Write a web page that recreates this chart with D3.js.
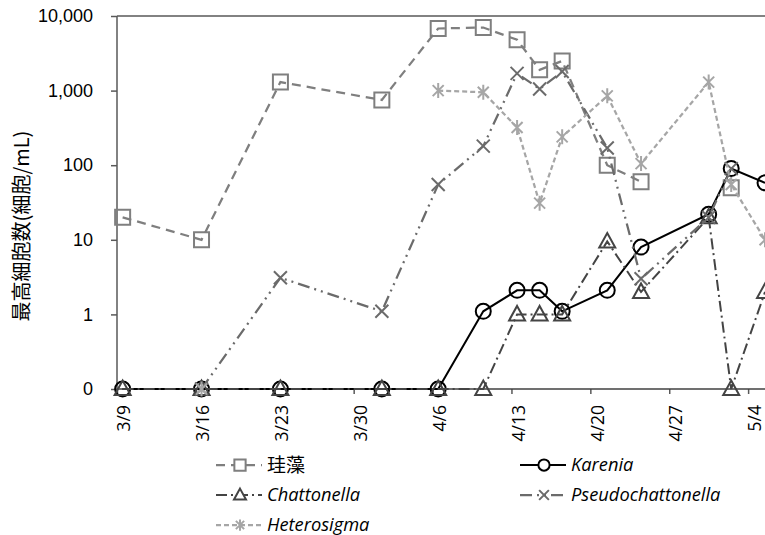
<!DOCTYPE html>
<html>
<head>
<meta charset="utf-8">
<script src="https://cdn.jsdelivr.net/npm/d3@7"></script>
<style>
  body { margin: 0; background: #fff; }
  svg { display: block; }
</style>
</head>
<body>
<div id="chart"></div>
<script>
// sampling dates (month/day) and cell counts per mL; 0 is drawn on the "0" line of the log axis
var dates = ["3/9", "3/16", "3/23", "4/1", "4/6", "4/10", "4/13", "4/15", "4/17", "4/21", "4/24", "4/30", "5/2", "5/5"];
var diatom = [20, 10, 1300, 750, 6800, 7000, 4800, 1900, 2500, 100, 60, null, 50, null];
var karenia = [0, 0, 0, 0, 0, 1.1, 2.1, 2.1, 1.1, 2.1, 8, 22, 90, 58];
var chattonella = [0, 0, 0, 0, 0, 0, 1, 1, 1, 9.5, 2, 20, 0, 2];
var pseudochattonella = [null, 0, 3.1, 1.1, 55, 180, 1700, 1050, 1800, 170, 3, 20, 90, null];
var heterosigma = [null, 0, null, null, 1000, 950, 320, 31, 240, 850, 105, 1300, 55, 10];

var tickLabels = ["3/9", "3/16", "3/23", "3/30", "4/6", "4/13", "4/20", "4/27", "5/4"];
var yTicks = [0.1, 1, 10, 100, 1000, 10000];

var series = [
  { name: "珪藻", values: diatom, marker: "square", color: "#7f7f7f", dash: "9,6", width: 2.25, italic: false },
  { name: "Karenia", values: karenia, marker: "circle", color: "#000000", dash: null, width: 2, italic: true },
  { name: "Chattonella", values: chattonella, marker: "triangle", color: "#444444", dash: "11,4,2,4", width: 2, italic: true },
  { name: "Pseudochattonella", values: pseudochattonella, marker: "x", color: "#6b6b6b", dash: "12,5,2,5,2,5", width: 2.25, italic: true },
  { name: "Heterosigma", values: heterosigma, marker: "asterisk", color: "#a6a6a6", dash: "5,3", width: 2.25, italic: true }
];

var W = 765, H = 535;
var plotLeft = 117, plotTop = 16, plotBottom = 389;
var pxPerDay = 11.27;

var parse = function(s) { return d3.utcParse("%Y/%m/%d")("2021/" + s); };
var start = parse("3/9");
var end = parse("5/6");
var nDays = d3.utcDay.count(start, end);

var x = d3.scaleUtc()
    .domain([start, end])
    .range([plotLeft, plotLeft + nDays * pxPerDay]);

var y = d3.scaleLog()
    .domain([0.1, 10000])
    .range([plotBottom, plotTop]);

var svg = d3.select("#chart").append("svg")
    .attr("width", W)
    .attr("height", H);

// marker shapes
function markerPath(type, k) {
  k = k || 1;
  var h = 7.5 * k;
  switch (type) {
    case "square":
      return "M" + (-h) + "," + (-h) + "H" + h + "V" + h + "H" + (-h) + "Z";
    case "circle":
      return "M" + h + ",0A" + h + "," + h + " 0 1,1 " + (-h) + ",0A" + h + "," + h + " 0 1,1 " + h + ",0Z";
    case "triangle":
      return "M0," + (-8.5 * k) + "L" + (8 * k) + "," + (6 * k) + "L" + (-8 * k) + "," + (6 * k) + "Z";
    case "x":
      var a = 6.5 * k;
      return "M" + (-a) + "," + (-a) + "L" + a + "," + a + "M" + (-a) + "," + a + "L" + a + "," + (-a);
    case "asterisk":
      var b = 5.5 * k, c = 7.5 * k;
      return "M" + (-b) + "," + (-b) + "L" + b + "," + b + "M" + (-b) + "," + b + "L" + b + "," + (-b) + "M0," + (-c) + "V" + c;
  }
}

var dayCenter = function(s) { return x(d3.utcHour.offset(parse(s), 12)); };
var yv = function(v) { return y(Math.max(v, 0.1)); };

// axes
var xAxis = d3.axisBottom(x)
    .tickValues(tickLabels.map(parse))
    .tickSize(5)
    .tickFormat(function(d, i) { return tickLabels[i]; });

var gx = svg.append("g")
    .attr("transform", "translate(0," + plotBottom + ")")
    .call(xAxis);
gx.select(".domain").remove();
gx.selectAll(".tick line").attr("stroke", "#595959").attr("stroke-width", 1.5);
gx.selectAll(".tick text")
    .attr("fill", "#000")
    .style("font-family", "'Open Sans', sans-serif")
    .style("font-size", "17.5px")
    .attr("text-anchor", "end")
    .attr("transform", "translate(" + (pxPerDay / 2 + 1) + ",0) rotate(-90)")
    .attr("x", -16)
    .attr("y", 0)
    .attr("dy", "0.35em");

var yAxis = d3.axisLeft(y)
    .tickValues(yTicks)
    .tickSize(6)
    .tickFormat(function(d) { return d < 1 ? "0" : d3.format(",")(d); });

var gy = svg.append("g")
    .attr("transform", "translate(" + plotLeft + ",0)")
    .call(yAxis);
gy.select(".domain").remove();
gy.selectAll(".tick line").attr("stroke", "#595959").attr("stroke-width", 1.5);
gy.selectAll(".tick text")
    .attr("fill", "#000")
    .attr("x", -24)
    .style("font-family", "'Liberation Sans', Arial, sans-serif")
    .style("font-size", "18px");

// plot frame: left axis, baseline, top border
svg.append("line").attr("x1", plotLeft).attr("x2", plotLeft).attr("y1", plotTop).attr("y2", plotBottom)
    .attr("stroke", "#595959").attr("stroke-width", 1.5);
svg.append("line").attr("x1", plotLeft).attr("x2", W).attr("y1", plotBottom).attr("y2", plotBottom)
    .attr("stroke", "#404040").attr("stroke-width", 1.5);
svg.append("line").attr("x1", plotLeft).attr("x2", W).attr("y1", plotTop).attr("y2", plotTop)
    .attr("stroke", "#595959").attr("stroke-width", 1.5);

svg.append("text")
    .attr("transform", "translate(29,226) rotate(-90)")
    .attr("text-anchor", "middle")
    .style("font-family", "'Noto Sans CJK JP', sans-serif")
    .style("font-size", "20px")
    .text("最高細胞数(細胞/mL)");

// series
var line = d3.line()
    .defined(function(d) { return d.v != null; })
    .x(function(d) { return dayCenter(d.date); })
    .y(function(d) { return yv(d.v); });

series.forEach(function(s) {
  var pts = dates.map(function(d, i) { return { date: d, v: s.values[i] }; });
  var g = svg.append("g");
  g.append("path")
      .datum(pts)
      .attr("d", line)
      .attr("fill", "none")
      .attr("stroke", s.color)
      .attr("stroke-width", s.width)
      .attr("stroke-dasharray", s.dash);
  g.selectAll(".pt")
      .data(pts.filter(function(d) { return d.v != null; }))
    .enter().append("path")
      .attr("transform", function(d) { return "translate(" + dayCenter(d.date) + "," + yv(d.v) + ")"; })
      .attr("d", markerPath(s.marker))
      .attr("fill", "none")
      .attr("stroke", s.color)
      .attr("stroke-width", 2);
});

// legend, two columns filled row by row
var legend = svg.append("g");
series.forEach(function(s, i) {
  var col = i % 2, row = Math.floor(i / 2);
  var lx = col === 0 ? 216 : 520;
  var ly = 465 + row * 30;
  var item = legend.append("g").attr("transform", "translate(" + lx + "," + ly + ")");
  item.append("line")
      .attr("x1", 0).attr("x2", 46)
      .attr("stroke", s.color)
      .attr("stroke-width", s.width)
      .attr("stroke-dasharray", s.dash);
  item.append("path")
      .attr("transform", "translate(24,0)")
      .attr("d", markerPath(s.marker, 0.75))
      .attr("fill", "#fff")
      .attr("stroke", s.color)
      .attr("stroke-width", 2);
  item.append("text")
      .attr("x", 51)
      .attr("dy", "0.35em")
      .style("font-family", s.italic ? "'Open Sans', sans-serif" : "'Noto Sans CJK JP', sans-serif")
      .style("font-style", s.italic ? "italic" : "normal")
      .style("font-size", s.italic ? "18.3px" : "19px")
      .text(s.name);
});
</script>
</body>
</html>
